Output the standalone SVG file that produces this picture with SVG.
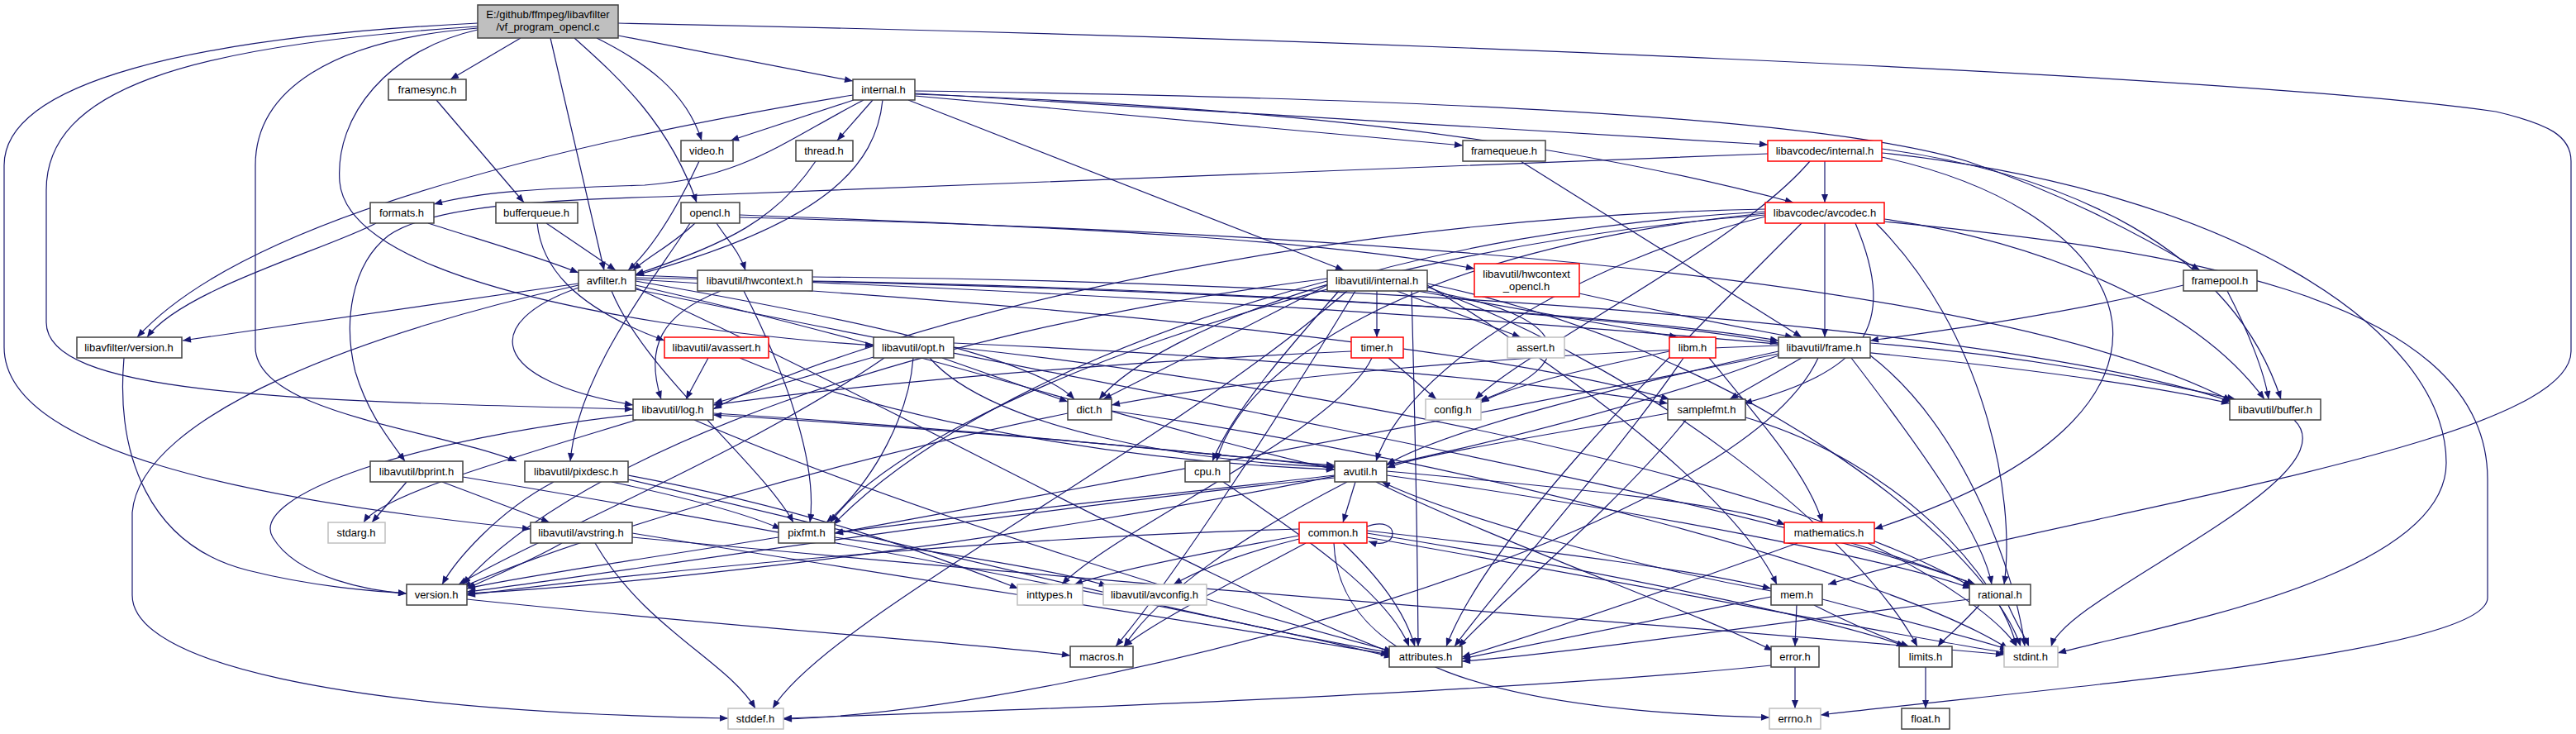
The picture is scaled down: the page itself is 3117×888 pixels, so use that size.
<svg xmlns="http://www.w3.org/2000/svg" width="3117" height="888" viewBox="0 0 3117 888">
<style>
.n rect{fill:#fff;stroke:#404040;stroke-width:1.5}
.n.r rect{stroke:#ff0000}
.n.g rect{stroke:#bfbfbf}
.n.m rect{fill:#bfbfbf}
text{font-family:"Liberation Sans",Arial,sans-serif;font-size:13px;fill:#000;text-anchor:middle}
#edges path{fill:none;stroke:#191970;stroke-width:1.2;marker-end:url(#a)}
</style>
<defs><marker id="a" viewBox="0 0 10 8" refX="10" refY="4" markerWidth="11" markerHeight="8" markerUnits="userSpaceOnUse" orient="auto"><path d="M0,0L10,4L0,8z" fill="#191970"/></marker></defs>
<rect width="3117" height="888" fill="#fff"/>
<g id="edges">
<path d="M630,46 L545,96"/>
<path d="M666,46 L731,327"/>
<path d="M722,46 C780,75 830,110 849,170"/>
<path d="M695,46 C750,95 810,150 843,245"/>
<path d="M748,43 L1032,98"/>
<path d="M748,28 C1600,45 2700,90 3020,135 C3085,150 3111,165 3111,195 L3111,425 C3111,540 2500,620 2212,707"/>
<path d="M578,32 C220,55 56,110 56,230 L56,390 C56,475 330,485 766,495"/>
<path d="M578,28 C230,45 5,100 5,200 L5,420 C5,545 300,605 642,640"/>
<path d="M578,34 C400,48 309,110 309,200 L309,420 C309,500 530,520 625,558"/>
<path d="M578,36 C470,60 405,140 411,220 C418,300 580,355 800,390 C920,408 1000,414 1057,418"/>
<path d="M528,121 L634,245"/>
<path d="M661,270 L745,327"/>
<path d="M650,270 C655,320 690,370 804,412"/>
<path d="M518,270 C580,290 650,310 700,330"/>
<path d="M455,270 C400,300 220,350 178,408"/>
<path d="M1033,121 L884,170"/>
<path d="M1056,121 L1013,170"/>
<path d="M1068,121 C1060,200 1000,270 769,333"/>
<path d="M1032,115 C700,170 300,260 166,408"/>
<path d="M1045,121 C950,170 900,215 780,224 C650,228 580,232 525,247"/>
<path d="M1107,116 L1770,176"/>
<path d="M1107,113 C1500,135 1900,158 2139,175"/>
<path d="M1107,114 C1500,128 1850,160 2170,245"/>
<path d="M1107,110 C1700,118 2200,140 2380,195 C2500,235 2600,290 2662,327"/>
<path d="M1099,121 L1626,327"/>
<path d="M846,195 C820,250 790,300 760,327"/>
<path d="M987,195 C940,265 880,295 769,332"/>
<path d="M867,270 C880,290 895,305 902,327"/>
<path d="M841,270 C815,295 785,310 766,327"/>
<path d="M895,260 C1300,275 1600,290 1784,325"/>
<path d="M895,263 C1600,280 2400,330 2700,485"/>
<path d="M835,270 C790,340 700,450 690,558"/>
<path d="M2139,186 C1800,198 1100,228 800,238 C650,242 520,250 470,285 C425,320 415,390 430,450 C445,500 470,530 490,558"/>
<path d="M700,343 L221,412"/>
<path d="M700,348 C580,390 590,460 766,490"/>
<path d="M700,345 C450,400 170,500 160,620 L160,720 C160,800 400,860 881,869"/>
<path d="M769,345 C1100,420 1400,520 1615,568"/>
<path d="M769,348 C1100,500 1450,700 1685,790"/>
<path d="M769,333 C1500,360 2400,420 2698,488"/>
<path d="M769,340 C1000,380 1250,430 1300,483"/>
<path d="M769,336 C1300,345 1900,370 2152,412"/>
<path d="M769,338 C1300,370 1800,420 2020,483"/>
<path d="M740,352 C780,450 920,560 960,632"/>
<path d="M769,350 C1400,480 2100,600 2390,707"/>
<path d="M983,335 C1700,340 2450,400 2700,486"/>
<path d="M983,340 C1500,350 1950,380 2152,415"/>
<path d="M872,352 C800,380 780,420 800,483"/>
<path d="M900,352 C950,450 990,560 980,632"/>
<path d="M1911,355 C2000,375 2100,395 2170,408"/>
<path d="M1666,352 L1666,408"/>
<path d="M1690,352 L1840,408"/>
<path d="M1715,352 L2030,408"/>
<path d="M1727,352 C1900,380 1920,440 1790,485"/>
<path d="M1708,352 C1712,500 1715,650 1716,782"/>
<path d="M1620,352 C1560,420 1490,500 1467,558"/>
<path d="M1606,345 C1500,400 1400,450 1335,483"/>
<path d="M1640,352 C1550,500 1420,700 1350,782"/>
<path d="M1727,345 C1900,450 2100,600 2150,707"/>
<path d="M1606,340 C1300,420 1100,540 1008,635"/>
<path d="M1606,337 C1100,400 700,550 560,707"/>
<path d="M1727,347 C2000,450 2250,650 2320,782"/>
<path d="M1727,343 C2100,420 2400,650 2445,782"/>
<path d="M1630,352 C1400,550 1000,750 935,857"/>
<path d="M1680,433 L1738,483"/>
<path d="M1660,433 C1620,520 1350,640 1285,707"/>
<path d="M1635,425 C1300,440 1000,470 863,490"/>
<path d="M2020,425 C1900,450 1820,470 1792,487"/>
<path d="M2037,433 C1950,560 1820,700 1760,782"/>
<path d="M2068,433 C2140,520 2190,580 2205,632"/>
<path d="M2180,433 L2093,483"/>
<path d="M2263,415 C2450,430 2600,460 2705,483"/>
<path d="M2152,418 C1800,430 1500,460 1345,490"/>
<path d="M2152,425 C1950,470 1750,520 1678,562"/>
<path d="M2152,428 C1700,520 1200,610 1010,645"/>
<path d="M2240,433 C2330,550 2400,650 2410,707"/>
<path d="M2263,430 C2380,520 2440,700 2450,782"/>
<path d="M2200,433 C2100,650 1300,860 948,870"/>
<path d="M2152,430 C1700,600 900,700 565,718"/>
<path d="M1840,195 L2180,408"/>
<path d="M2642,345 C2500,380 2350,400 2263,412"/>
<path d="M2695,352 C2720,400 2740,450 2745,483"/>
<path d="M2208,270 L2208,408"/>
<path d="M2280,268 C2600,300 3010,350 3010,580 L3010,723 C3010,790 2500,830 2203,865"/>
<path d="M2280,265 C2450,290 2650,360 2740,483"/>
<path d="M2245,270 C2300,400 2250,450 2110,488"/>
<path d="M2180,270 C2000,450 1800,650 1750,782"/>
<path d="M2136,262 C1900,320 1700,450 1665,558"/>
<path d="M2136,258 C1700,300 1500,450 1472,558"/>
<path d="M2136,256 C1700,280 1400,400 1330,483"/>
<path d="M2136,253 C1500,265 1000,420 863,495"/>
<path d="M2136,260 C1600,300 1100,500 1005,632"/>
<path d="M2270,270 C2400,400 2440,600 2425,707"/>
<path d="M2208,195 L2208,245"/>
<path d="M2277,180 C2500,210 2700,300 2760,483"/>
<path d="M2277,185 C2700,230 2960,400 2960,560 C2960,700 2600,760 2490,790"/>
<path d="M2277,190 C2600,260 2700,500 2268,640"/>
<path d="M2190,195 C2100,300 1850,420 1785,483"/>
<path d="M1057,432 L864,488"/>
<path d="M1140,433 L1292,486"/>
<path d="M1105,433 C1100,500 1060,580 1000,632"/>
<path d="M1125,433 C1200,520 1450,560 1615,565"/>
<path d="M1154,415 C1500,430 1850,460 2018,488"/>
<path d="M1154,420 C1700,480 2200,600 2385,710"/>
<path d="M1070,433 C900,550 650,650 555,707"/>
<path d="M1345,497 C1800,560 2300,700 2430,785"/>
<path d="M1292,500 C1000,560 700,650 560,710"/>
<path d="M2018,500 C1850,530 1720,550 1678,566"/>
<path d="M2040,508 C1950,620 1800,740 1765,783"/>
<path d="M2112,505 C2300,560 2420,700 2440,782"/>
<path d="M2776,508 C2850,580 2500,720 2482,782"/>
<path d="M857,433 L830,483"/>
<path d="M895,433 C1100,520 1400,560 1615,568"/>
<path d="M492,583 L450,632"/>
<path d="M535,583 L665,632"/>
<path d="M560,577 C1000,650 1500,750 1685,795"/>
<path d="M740,583 C820,600 900,620 945,640"/>
<path d="M670,583 C600,620 550,680 535,707"/>
<path d="M760,575 C1000,620 1150,680 1232,712"/>
<path d="M760,580 C1100,660 1500,760 1685,790"/>
<path d="M863,500 C1200,520 1450,550 1615,563"/>
<path d="M840,508 C1100,620 1500,740 1685,788"/>
<path d="M766,502 C500,530 300,600 330,650 C360,700 450,715 492,718"/>
<path d="M770,508 C600,560 460,600 440,632"/>
<path d="M1480,583 C1580,650 1680,720 1705,782"/>
<path d="M1640,583 L1625,632"/>
<path d="M1615,565 C1300,530 1000,510 863,502"/>
<path d="M1615,575 C1400,600 1150,625 1010,645"/>
<path d="M1615,578 C1200,620 700,700 565,716"/>
<path d="M1630,583 C1500,650 1400,720 1360,782"/>
<path d="M1678,570 C1900,590 2100,610 2160,635"/>
<path d="M1678,575 C2000,620 2300,680 2385,712"/>
<path d="M1665,583 C1800,650 2050,740 2145,787"/>
<path d="M1654,637 C1695,622 1695,668 1656,655"/>
<path d="M1614,657 C1620,800 1800,860 2141,868"/>
<path d="M1625,657 C1670,700 1700,740 1712,782"/>
<path d="M1580,657 C1500,700 1400,750 1360,782"/>
<path d="M1572,640 C1200,650 800,690 565,720"/>
<path d="M1572,648 C1450,670 1350,690 1300,707"/>
<path d="M1572,652 C1500,670 1450,690 1420,707"/>
<path d="M1654,642 C1900,670 2050,690 2143,712"/>
<path d="M1654,645 C2000,700 2250,760 2305,782"/>
<path d="M1654,650 C2000,710 2300,770 2430,790"/>
<path d="M2175,657 C2000,720 1850,770 1769,795"/>
<path d="M2240,657 C2320,680 2370,700 2390,707"/>
<path d="M2260,657 C2350,700 2420,750 2440,782"/>
<path d="M1010,650 C1150,670 1280,690 1340,709"/>
<path d="M942,650 C750,680 620,700 565,712"/>
<path d="M565,725 C900,760 1200,780 1295,793"/>
<path d="M2174,732 L2172,782"/>
<path d="M2195,732 C2250,760 2290,775 2310,782"/>
<path d="M2205,725 C2300,750 2400,775 2430,786"/>
<path d="M2143,722 C2000,750 1850,780 1769,797"/>
<path d="M2143,715 C1950,680 1750,620 1672,583"/>
<path d="M2395,732 C2370,760 2350,775 2345,782"/>
<path d="M2430,732 C2440,755 2450,770 2455,782"/>
<path d="M2383,725 C2100,760 1900,790 1769,800"/>
<path d="M2172,807 L2172,857"/>
<path d="M2143,805 C1800,840 1200,860 948,869"/>
<path d="M2330,807 L2330,857"/>
<path d="M720,657 C780,760 880,800 914,857"/>
<path d="M765,650 C1500,720 2200,770 2425,792"/>
<path d="M765,645 C1100,700 1500,760 1681,792"/>
<path d="M680,657 C640,680 590,700 565,712"/>
<path d="M150,433 C140,550 180,660 300,690 C380,710 450,715 492,718"/>
</g>
<g id="n_main" class="n m"><rect x="578" y="6" width="170" height="40"/><text x="663" y="22">E:/github/ffmpeg/libavfilter</text><text x="663" y="37">/vf_program_opencl.c</text></g>
<g id="n_framesync" class="n"><rect x="470" y="96" width="94" height="25"/><text x="517" y="113">framesync.h</text></g>
<g id="n_internal" class="n"><rect x="1032" y="96" width="75" height="25"/><text x="1069" y="113">internal.h</text></g>
<g id="n_video" class="n"><rect x="824" y="170" width="63" height="25"/><text x="855" y="187">video.h</text></g>
<g id="n_thread" class="n"><rect x="963" y="170" width="69" height="25"/><text x="997" y="187">thread.h</text></g>
<g id="n_framequeue" class="n"><rect x="1770" y="170" width="100" height="25"/><text x="1820" y="187">framequeue.h</text></g>
<g id="n_lavc_internal" class="n r"><rect x="2139" y="170" width="138" height="25"/><text x="2208" y="187">libavcodec/internal.h</text></g>
<g id="n_formats" class="n"><rect x="448" y="245" width="77" height="25"/><text x="486" y="262">formats.h</text></g>
<g id="n_bufferqueue" class="n"><rect x="600" y="245" width="99" height="25"/><text x="649" y="262">bufferqueue.h</text></g>
<g id="n_opencl" class="n"><rect x="824" y="245" width="71" height="25"/><text x="859" y="262">opencl.h</text></g>
<g id="n_avcodec" class="n r"><rect x="2136" y="245" width="144" height="25"/><text x="2208" y="262">libavcodec/avcodec.h</text></g>
<g id="n_avfilter" class="n"><rect x="700" y="327" width="69" height="25"/><text x="734" y="344">avfilter.h</text></g>
<g id="n_hwcontext" class="n"><rect x="844" y="327" width="139" height="25"/><text x="913" y="344">libavutil/hwcontext.h</text></g>
<g id="n_lavu_internal" class="n"><rect x="1606" y="327" width="121" height="25"/><text x="1666" y="344">libavutil/internal.h</text></g>
<g id="n_hwcontext_opencl" class="n r"><rect x="1784" y="319" width="127" height="40"/><text x="1847" y="336">libavutil/hwcontext</text><text x="1847" y="351">_opencl.h</text></g>
<g id="n_framepool" class="n"><rect x="2642" y="327" width="89" height="25"/><text x="2686" y="344">framepool.h</text></g>
<g id="n_lavfi_version" class="n"><rect x="93" y="408" width="127" height="25"/><text x="156" y="425">libavfilter/version.h</text></g>
<g id="n_avassert" class="n r"><rect x="804" y="408" width="126" height="25"/><text x="867" y="425">libavutil/avassert.h</text></g>
<g id="n_opt" class="n"><rect x="1057" y="408" width="97" height="25"/><text x="1105" y="425">libavutil/opt.h</text></g>
<g id="n_timer" class="n r"><rect x="1635" y="408" width="63" height="25"/><text x="1666" y="425">timer.h</text></g>
<g id="n_assert" class="n g"><rect x="1824" y="408" width="69" height="25"/><text x="1858" y="425">assert.h</text></g>
<g id="n_libm" class="n r"><rect x="2020" y="408" width="56" height="25"/><text x="2048" y="425">libm.h</text></g>
<g id="n_frame" class="n"><rect x="2152" y="408" width="111" height="25"/><text x="2207" y="425">libavutil/frame.h</text></g>
<g id="n_log" class="n"><rect x="766" y="483" width="97" height="25"/><text x="814" y="500">libavutil/log.h</text></g>
<g id="n_dict" class="n"><rect x="1292" y="483" width="53" height="25"/><text x="1318" y="500">dict.h</text></g>
<g id="n_config" class="n g"><rect x="1725" y="483" width="67" height="25"/><text x="1758" y="500">config.h</text></g>
<g id="n_samplefmt" class="n"><rect x="2018" y="483" width="94" height="25"/><text x="2065" y="500">samplefmt.h</text></g>
<g id="n_buffer" class="n"><rect x="2698" y="483" width="110" height="25"/><text x="2753" y="500">libavutil/buffer.h</text></g>
<g id="n_bprint" class="n"><rect x="448" y="558" width="112" height="25"/><text x="504" y="575">libavutil/bprint.h</text></g>
<g id="n_pixdesc" class="n"><rect x="635" y="558" width="125" height="25"/><text x="697" y="575">libavutil/pixdesc.h</text></g>
<g id="n_cpu" class="n"><rect x="1434" y="558" width="54" height="25"/><text x="1461" y="575">cpu.h</text></g>
<g id="n_avutil" class="n"><rect x="1615" y="558" width="63" height="25"/><text x="1646" y="575">avutil.h</text></g>
<g id="n_stdarg" class="n g"><rect x="397" y="632" width="69" height="25"/><text x="431" y="649">stdarg.h</text></g>
<g id="n_avstring" class="n"><rect x="642" y="632" width="123" height="25"/><text x="703" y="649">libavutil/avstring.h</text></g>
<g id="n_pixfmt" class="n"><rect x="942" y="632" width="68" height="25"/><text x="976" y="649">pixfmt.h</text></g>
<g id="n_common" class="n r"><rect x="1572" y="632" width="82" height="25"/><text x="1613" y="649">common.h</text></g>
<g id="n_mathematics" class="n r"><rect x="2159" y="632" width="109" height="25"/><text x="2213" y="649">mathematics.h</text></g>
<g id="n_version" class="n"><rect x="492" y="707" width="73" height="25"/><text x="528" y="724">version.h</text></g>
<g id="n_inttypes" class="n g"><rect x="1231" y="707" width="79" height="25"/><text x="1270" y="724">inttypes.h</text></g>
<g id="n_avconfig" class="n g"><rect x="1335" y="707" width="125" height="25"/><text x="1397" y="724">libavutil/avconfig.h</text></g>
<g id="n_mem" class="n"><rect x="2143" y="707" width="62" height="25"/><text x="2174" y="724">mem.h</text></g>
<g id="n_rational" class="n"><rect x="2383" y="707" width="74" height="25"/><text x="2420" y="724">rational.h</text></g>
<g id="n_macros" class="n"><rect x="1295" y="782" width="76" height="25"/><text x="1333" y="799">macros.h</text></g>
<g id="n_attributes" class="n"><rect x="1681" y="782" width="88" height="25"/><text x="1725" y="799">attributes.h</text></g>
<g id="n_error" class="n"><rect x="2143" y="782" width="58" height="25"/><text x="2172" y="799">error.h</text></g>
<g id="n_limits" class="n"><rect x="2298" y="782" width="64" height="25"/><text x="2330" y="799">limits.h</text></g>
<g id="n_stdint" class="n g"><rect x="2425" y="782" width="65" height="25"/><text x="2457" y="799">stdint.h</text></g>
<g id="n_stddef" class="n g"><rect x="881" y="857" width="67" height="25"/><text x="914" y="874">stddef.h</text></g>
<g id="n_errno" class="n g"><rect x="2141" y="857" width="62" height="25"/><text x="2172" y="874">errno.h</text></g>
<g id="n_float" class="n"><rect x="2301" y="857" width="58" height="25"/><text x="2330" y="874">float.h</text></g>
</svg>
